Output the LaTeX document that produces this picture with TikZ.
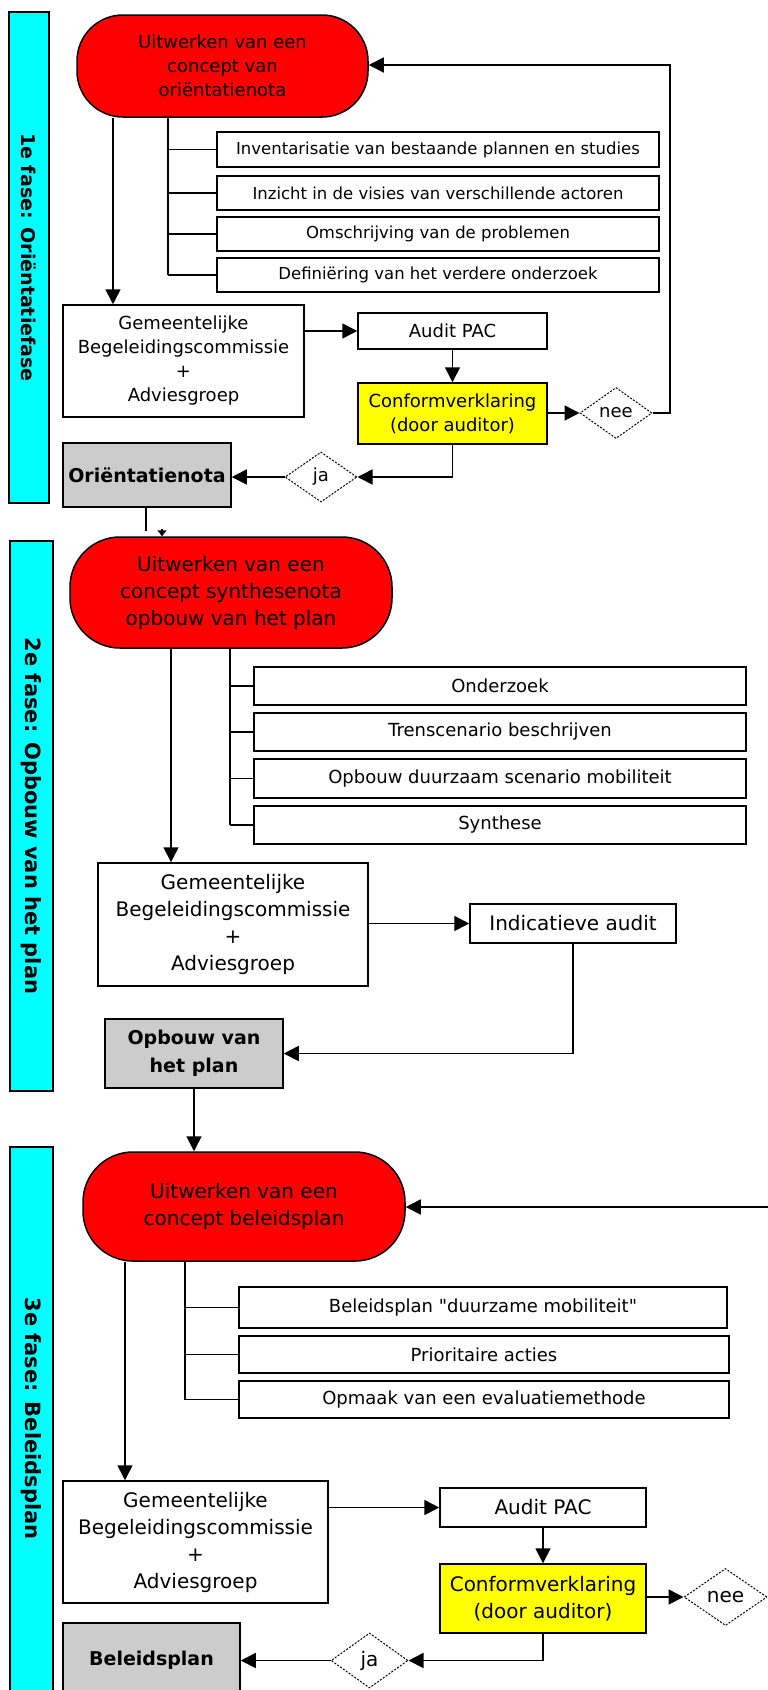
\documentclass[tikz,border=0pt]{standalone}
\usepackage{fontspec}
\setmainfont{DejaVu Sans}[Ligatures=TeXOff]
\usetikzlibrary{arrows.meta,shapes.geometric}
\definecolor{barcyan}{RGB}{0,255,255}
\definecolor{boxred}{RGB}{255,0,0}
\definecolor{boxyellow}{RGB}{255,255,0}
\definecolor{boxgrey}{RGB}{204,204,204}
\begin{document}
\begin{tikzpicture}[x=1pt,y=-1pt,
  ln/.style={line width=1.6pt},
  arr/.style={line width=1.6pt,-{Triangle[length=15pt,width=15pt]}},
  smallarr/.style={line width=1.6pt,-{Triangle[length=6pt,width=9pt]}},
  base/.style={draw,line width=1.5pt,inner sep=0pt,align=center,text=black},
  bar/.style={base,fill=barcyan},
  redbox/.style={base,fill=boxred},
  wbox/.style={base,fill=white},
  yel/.style={base,fill=boxyellow},
  grey/.style={base,fill=boxgrey},
  dia/.style={diamond,draw,line width=1pt,dash pattern=on 2pt off 1.5pt,fill=white,inner sep=0pt},
  fA/.style={font=\fontsize{18}{24}\selectfont},
  fS/.style={font=\fontsize{16.5}{20}\selectfont},
  fB/.style={font=\fontsize{20}{27}\selectfont},
  fG/.style={font=\fontsize{19}{28}\selectfont\bfseries},
  fV/.style={font=\fontsize{19}{24}\selectfont\bfseries},
  fW/.style={font=\fontsize{21}{24}\selectfont\bfseries}
]
\useasboundingbox (0,0) rectangle (768,1690);
\clip (0,0) rectangle (768,1690);
\fill[white] (0,0) rectangle (768,1690);

% ---------- Phase bars ----------
\node[bar,minimum width=40,minimum height=491] (b1) at (29,257.5) {};
\node[rotate=-90,fV] (b1t) at (b1.center) {1e fase: Oriëntatiefase};
\node[bar,minimum width=43,minimum height=550] (b2) at (31.5,816) {};
\node[rotate=-90,fW] (b2t) at (b2.center) {2e fase: Opbouw van het plan};
\node[bar,minimum width=43,minimum height=550] (b3) at (31.5,1422) {};
\node[rotate=-90,fW] (b3t) at (31.5,1418.5) {3e fase: Beleidsplan};

% ---------- Phase 1 ----------
\node[redbox,rounded corners=46pt,fA,minimum width=291,minimum height=102] (e1) at (222.5,66)
  {Uitwerken van een\\concept van\\oriëntatienota};
\node[wbox,fS,minimum width=442,minimum height=35] (s11) at (438,149.5) {Inventarisatie van bestaande plannen en studies};
\node[wbox,fS,minimum width=442,minimum height=34] (s12) at (438,193) {Inzicht in de visies van verschillende actoren};
\node[wbox,fS,minimum width=442,minimum height=34] (s13) at (438,234) {Omschrijving van de problemen};
\node[wbox,fS,minimum width=442,minimum height=34] (s14) at (438,275) {Definiëring van het verdere onderzoek};
\node[wbox,fA,minimum width=241,minimum height=112] (g1) at (183.5,361)
  {Gemeentelijke\\Begeleidingscommissie\\+\\Adviesgroep};
\node[wbox,fA,minimum width=189,minimum height=36] (a1) at (452.5,331) {Audit PAC};
\node[yel,fA,minimum width=189,minimum height=61] (c1) at (452.5,413.5) {Conformverklaring\\(door auditor)};
\node[dia,fA,minimum width=72,minimum height=51] (nee1) at (616,413) {nee};
\node[dia,fA,minimum width=72,minimum height=50] (ja1) at (321,477) {ja};
\node[grey,fG,minimum width=168,minimum height=64] (o1) at (147,475) {Oriëntatienota};

\coordinate (t1) at (113,0);
\coordinate (k1) at (168,0);
\coordinate (r1) at (670,65);
\coordinate (q1) at (146,531);
\coordinate (q2) at (162,529);
\draw[arr] (e1.south -| t1) -- (g1.north -| t1);
\draw[ln] (e1.south -| k1) -- (s14.west -| k1);
\foreach \s in {s11,s12,s13,s14} \draw[ln] (\s.west -| k1) -- (\s.west);
\draw[arr] (g1.east |- a1) -- (a1.west);
\draw[arr] (a1.south) -- (c1.north);
\draw[arr] (c1.east |- nee1) -- (nee1.west);
\draw[arr] (nee1.east) -| (r1) -- (e1.east |- r1);
\draw[arr] (c1.south) |- (ja1.east);
\draw[arr] (ja1.west) -- (o1.east |- ja1);

% ---------- Phase 2 ----------
\node[redbox,rounded corners=50pt,fB,minimum width=322,minimum height=111] (e2) at (231,592.5)
  {Uitwerken van een\\concept synthesenota\\opbouw van het plan};
\node[wbox,fA,minimum width=492,minimum height=38] (s21) at (500,686) {Onderzoek};
\node[wbox,fA,minimum width=492,minimum height=38] (s22) at (500,732) {Trenscenario beschrijven};
\node[wbox,fA,minimum width=492,minimum height=39] (s23) at (500,778.5) {Opbouw duurzaam scenario mobiliteit};
\node[wbox,fA,minimum width=492,minimum height=38] (s24) at (500,825) {Synthese};
\node[wbox,fB,minimum width=270,minimum height=123] (g2) at (233,924.5)
  {Gemeentelijke\\Begeleidingscommissie\\+\\Adviesgroep};
\node[wbox,fB,minimum width=206,minimum height=39] (ind) at (573,923.5) {Indicatieve audit};
\node[grey,fG,minimum width=178,minimum height=69] (op) at (194,1053.5) {Opbouw van\\het plan};

\draw[ln] (o1.south -| q1) -- (q1);
\draw[smallarr] (q2) -- (e2.north -| q2);

\coordinate (t2) at (171,0);
\coordinate (k2) at (230,0);
\draw[arr] (e2.south -| t2) -- (g2.north -| t2);
\draw[ln] (e2.south -| k2) -- (s24.west -| k2);
\foreach \s in {s21,s22,s23,s24} \draw[ln] (\s.west -| k2) -- (\s.west);
\draw[arr] (g2.east |- ind) -- (ind.west);
\draw[arr] (ind.south) |- (op.east);

% ---------- Phase 3 ----------
\node[redbox,rounded corners=50pt,fB,minimum width=322,minimum height=109] (e3) at (244,1206.5)
  {Uitwerken van een\\concept beleidsplan};
\draw[arr] (op.south) -- (e3.north -| op.south);
\node[wbox,fA,minimum width=488,minimum height=41] (s31) at (483,1307.5) {Beleidsplan "duurzame mobiliteit"};
\node[wbox,fA,minimum width=490,minimum height=37] (s32) at (484,1354.5) {Prioritaire acties};
\node[wbox,fA,minimum width=490,minimum height=37] (s33) at (484,1399.5) {Opmaak van een evaluatiemethode};
\node[wbox,fB,minimum width=265,minimum height=122] (g3) at (195.5,1542)
  {Gemeentelijke\\Begeleidingscommissie\\+\\Adviesgroep};
\node[wbox,fB,minimum width=206,minimum height=39] (a3) at (543,1507.5) {Audit PAC};
\node[yel,fB,minimum width=206,minimum height=69] (c3) at (543,1598.5) {Conformverklaring\\(door auditor)};
\node[dia,fB,minimum width=83,minimum height=57] (nee3) at (725.5,1597) {nee};
\node[dia,fB,minimum width=77,minimum height=55] (ja3) at (369.5,1660.5) {ja};
\node[grey,fG,minimum width=177,minimum height=74] (bp) at (151.5,1660) {Beleidsplan};

\coordinate (t3) at (125,0);
\coordinate (k3) at (185,0);
\coordinate (r3) at (780,1207);
\draw[arr] (e3.south -| t3) -- (g3.north -| t3);
\draw[ln] (e3.south -| k3) -- (s33.west -| k3);
\foreach \s in {s31,s32,s33} \draw[ln] (\s.west -| k3) -- (\s.west);
\draw[arr] (g3.east |- a3) -- (a3.west);
\draw[arr] (a3.south) -- (c3.north);
\draw[arr] (c3.east |- nee3) -- (nee3.west);
\draw[arr] (nee3.east) -| (r3) -- (e3.east |- r3);
\draw[arr] (c3.south) |- (ja3.east);
\draw[arr] (ja3.west) -- (bp.east |- ja3);
\end{tikzpicture}
\end{document}
